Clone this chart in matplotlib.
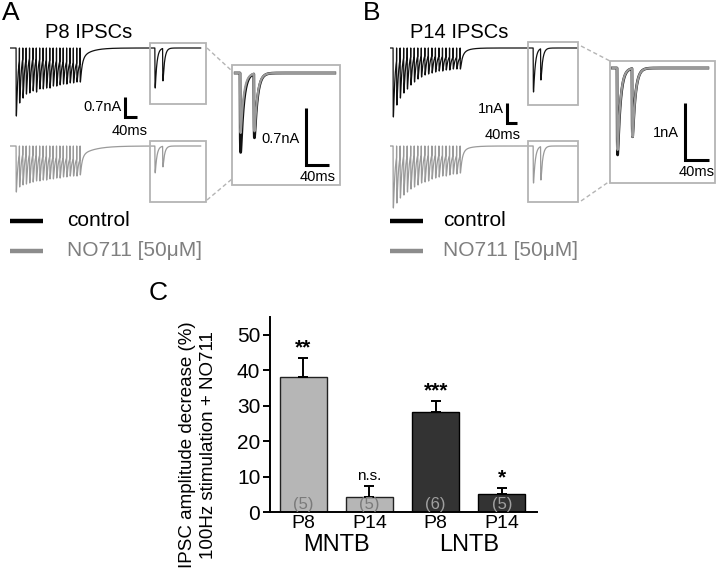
import numpy as np
import matplotlib.pyplot as plt
from matplotlib.patches import Rectangle

plt.rcParams['font.family'] = ['Liberation Sans', 'DejaVu Sans']

W, H = 720, 571

# ---- IPSC trough depths (nA), 20 pulses at 100 Hz ----
p8_ctrl_train = [2.38, 1.92, 1.75, 1.61, 1.57, 1.50, 1.54, 1.43, 1.43, 1.40,
                 1.40, 1.33, 1.33, 1.29, 1.26, 1.26, 1.22, 1.22, 1.19, 1.19]
p8_no711_train = [1.61, 1.43, 1.36, 1.33, 1.29, 1.26, 1.22, 1.22, 1.19, 1.19,
                  1.15, 1.15, 1.12, 1.12, 1.08, 1.08, 1.05, 1.05, 1.05, 1.01]
p14_ctrl_train = [3.45, 2.85, 2.50, 2.25, 2.05, 1.85, 1.70, 1.55, 1.45, 1.35,
                  1.30, 1.25, 1.20, 1.15, 1.15, 1.10, 1.10, 1.05, 1.05, 1.05]
p14_no711_train = [3.10, 2.85, 2.60, 2.45, 2.30, 2.15, 2.05, 1.95, 1.85, 1.80,
                   1.75, 1.65, 1.60, 1.55, 1.50, 1.50, 1.45, 1.40, 1.40, 1.35]

# recovery pulse pair after the train
p8_ctrl_rec = [1.40, 1.15]
p8_no711_rec = [0.94, 0.73]
p14_ctrl_rec = [2.20, 1.60]
p14_no711_rec = [1.85, 1.70]

# recovery pair in the enlarged insets
p8_ctrl_zoom = [0.98, 0.80]
p8_no711_zoom = [0.74, 0.72]
p14_ctrl_zoom = [1.58, 1.25]
p14_no711_zoom = [1.49, 1.25]

# slow current left at the end of the train (nA): control, NO711
p8_tail = [0.40, 0.35]
p14_tail = [0.35, 0.30]

# ---- panel C ----
groups = ["MNTB", "LNTB"]
ages = ["P8", "P14", "P8", "P14"]
decrease = [38.2, 4.1, 28.2, 5.1]
sem = [5.3, 3.2, 3.2, 1.6]
n_cells = ["(5)", "(5)", "(6)", "(5)"]
signif = ["**", "n.s.", "***", "*"]

ISI = 10.0
train_on = np.arange(20) * ISI


def kernel(s, tau=5.0):
    return np.where(s > 0, (1 - np.exp(-s / 0.4)) * np.exp(-s / tau), 0.0)


_s = np.arange(0, 30, 0.01)
_k = kernel(_s)
K_MAX = _k.max()
T_PK = _s[_k.argmax()]


def make_trace(t, onsets, depths, tail=0.0, tail_tau=30.0, n_train=0):
    slow = np.zeros_like(t)
    if tail > 0 and n_train > 1:
        ts, te = onsets[0], onsets[n_train - 1]
        ramp = np.clip((t - ts) / (te - ts), 0, 1)
        decay = np.where(t > te, np.exp(-(t - te) / tail_tau), 1.0)
        slow = -tail * ramp * decay
    amps = []
    for k, (on, d) in enumerate(zip(onsets, depths)):
        tp = on + T_PK
        prev = sum(a * kernel(tp - o) / K_MAX for a, o in zip(amps, onsets[:k]))
        amps.append(max(d - prev + np.interp(tp, t, slow), 0.05))
    y = slow.copy()
    for a, on in zip(amps, onsets):
        y -= a * kernel(t - on) / K_MAX
    for on in onsets[:n_train]:
        y[(t >= on) & (t < on + 0.3)] = 0.0
    return y


fig = plt.figure(figsize=(7.2, 5.71), dpi=100)


def px_axes(x0, y0, x1, y1, zorder=1):
    ax = fig.add_axes([x0 / W, 1 - y1 / H, (x1 - x0) / W, (y1 - y0) / H], zorder=zorder)
    return ax


def trace_axes(box, t0_px, ppms, base_px, ppna):
    x0, y0, x1, y1 = box
    ax = px_axes(x0, y0, x1, y1, zorder=2)
    ax.set_xlim((x0 - t0_px) / ppms, (x1 - t0_px) / ppms)
    ax.set_ylim((base_px - y1) / ppna, (base_px - y0) / ppna)
    ax.axis('off')
    ax.patch.set_alpha(0)
    return ax


BLACK = '#111111'
GRAY = '#9a9a9a'

panels = [
    dict(x=0, ctrl=p8_ctrl_train, no=p8_no711_train, crec=p8_ctrl_rec, nrec=p8_no711_rec,
         czoom=p8_ctrl_zoom, nzoom=p8_no711_zoom, tail=p8_tail, t0=16, ppms=0.337, ppna=28.6,
         rec=[412, 435], zon=[0, 23], tend=548, zbox=(233, 66, 339, 184), zt0=240, zppms=0.6,
         zbase=73, zppna=81, tail_tau=[28, 40]),
    dict(x=380, ctrl=p14_ctrl_train, no=p14_no711_train, crec=p14_ctrl_rec, nrec=p14_no711_rec,
         czoom=p14_ctrl_zoom, nzoom=p14_no711_zoom, tail=p14_tail, t0=393, ppms=0.353, ppna=20,
         rec=[397, 418], zon=[0, 26], tend=522, zbox=(611, 62, 714, 182), zt0=617, zppms=0.575,
         zbase=68, zppna=55, tail_tau=[18, 22]),
]

for p in panels:
    t = np.arange(-20, p['tend'], 0.1)
    onsets = list(train_on) + p['rec']
    for (depths, rec, tail, tau, base, col, ybox) in [
            (p['ctrl'], p['crec'], p['tail'][0], p['tail_tau'][0], 48, BLACK, (38, 128)),
            (p['no'], p['nrec'], p['tail'][1], p['tail_tau'][1], 146, GRAY, (136, 215))]:
        y = make_trace(t, onsets, list(depths) + rec, tail, tau, n_train=20)
        x_start = p['t0'] - 6 if p['x'] == 0 else p['t0'] - 3
        ax = trace_axes((x_start, ybox[0], x_start + 200, ybox[1]), p['t0'], p['ppms'], base, p['ppna'])
        ax.plot(t, y, color=col, lw=0.9)
    # enlarged recovery pair
    tz = np.arange(-8, 158, 0.05)
    axz = trace_axes(p['zbox'], p['zt0'], p['zppms'], p['zbase'], p['zppna'])
    axz.plot(tz, make_trace(tz, p['zon'], p['czoom']), color=BLACK, lw=2.0)
    axz.plot(tz, make_trace(tz, p['zon'], p['nzoom']), color=GRAY, lw=1.6)

# ---- overlay for labels, boxes, scale bars and legends (pixel coordinates) ----
ov = fig.add_axes([0, 0, 1, 1], zorder=5)
ov.set_xlim(0, W)
ov.set_ylim(H, 0)
ov.axis('off')
ov.patch.set_alpha(0)

BOX = '#b4b4b4'
ov.text(2, 13, "A", fontsize=19, va='center', ha='left')
ov.text(363, 13, "B", fontsize=19, va='center', ha='left')
ov.text(149, 293, "C", fontsize=19, va='center', ha='left')
ov.text(89, 32, "P8 IPSCs", fontsize=14.5, ha='center', va='center')
ov.text(459, 32, "P14 IPSCs", fontsize=14.5, ha='center', va='center')

for (sx, sy0, sy1, sx1) in [(150, 43, 104, 206), (150, 141, 202, 206),
                            (528, 42, 105, 578), (528, 141, 202, 578)]:
    ov.add_patch(Rectangle((sx, sy0), sx1 - sx, sy1 - sy0, fill=False, ec=BOX, lw=1.3))
for zb in [(232, 65, 340, 185), (610, 61, 715, 183)]:
    ov.add_patch(Rectangle((zb[0], zb[1]), zb[2] - zb[0], zb[3] - zb[1], fill=False, ec=BOX, lw=1.3))

dash = dict(color=BOX, lw=1.0, ls=(0, (3, 2)))
ov.plot([207, 232], [48, 71], **dash)
ov.plot([207, 232], [200, 179], **dash)
ov.plot([581, 610], [46, 61], **dash)
ov.plot([581, 610], [201, 181], **dash)

# scale bars: (x, y_top, y_bottom, x_right, amp label, label x, label y, time label x, y)
bars = [(125, 97, 117, 137, "0.7nA", 122, 107, 130, 131),
        (306, 108, 165, 329, "0.7nA", 300, 139, 318, 177),
        (507, 103, 123, 517, "1nA", 504, 109, 503, 135),
        (685, 103, 160, 709, "1nA", 679, 133, 697, 172)]
for bx, by0, by1, bx1, lab, lx, ly, tx, ty in bars:
    ov.plot([bx, bx, bx1], [by0, by1, by1], color='black', lw=2.2, solid_capstyle='butt',
            solid_joinstyle='miter')
    ov.text(lx, ly, lab, fontsize=10.5, ha='right', va='center')
    ov.text(tx, ty, "40ms", fontsize=10.5, ha='center', va='center')

for lx0, tx0 in [(10, 67), (390, 443)]:
    ov.plot([lx0, lx0 + 33], [221, 221], color='black', lw=3.2, solid_capstyle='butt')
    ov.plot([lx0, lx0 + 33], [251, 251], color='#8c8c8c', lw=3.2, solid_capstyle='butt')
    ov.text(tx0, 220, "control", fontsize=15, va='center', ha='left', color='black')
    ov.text(tx0, 250, "NO711 [50μM]", fontsize=15, va='center', ha='left', color='#7f7f7f')

# ---- panel C bar chart ----
axb = px_axes(270, 317, 537, 512, zorder=3)
xpos = np.arange(len(decrease))
colors = ['#b6b6b6', '#b6b6b6', '#333333', '#333333']
edges = ['#222222', '#222222', '#000000', '#000000']
axb.bar(xpos, decrease, width=0.71, color=colors, edgecolor=edges, linewidth=1.0,
        yerr=[np.zeros(len(sem)), sem], error_kw=dict(ecolor='black', elinewidth=1.4,
                                                      capsize=3.5, capthick=1.4))
axb.set_xlim(-0.5, 3.53)
axb.set_ylim(0, 55)
axb.set_yticks(np.arange(0, 51, 10))
axb.set_xticks(xpos)
axb.set_xticklabels(ages)
axb.tick_params(axis='y', direction='out', length=5, width=1.4, labelsize=15, pad=2)
axb.tick_params(axis='x', length=0, labelsize=14, pad=2)
for s in ['top', 'right']:
    axb.spines[s].set_visible(False)
for s in ['left', 'bottom']:
    axb.spines[s].set_linewidth(1.4)
axb.patch.set_alpha(0)

for i, (v, e, n, sg) in enumerate(zip(decrease, sem, n_cells, signif)):
    axb.text(i, 2.1, n, ha='center', va='center', fontsize=12,
             color='#7a7a7a' if i < 2 else '#a0a0a0')
    if sg == "n.s.":
        axb.text(i, v + e + 0.8, sg, ha='center', va='bottom', fontsize=11)
    else:
        axb.text(i, v + e + 0.2, sg, ha='center', va='bottom', fontsize=15, fontweight='bold')

for gi, g in enumerate(groups):
    axb.text(2 * gi + 0.5, -0.17, g, transform=axb.get_xaxis_transform(),
             ha='center', va='center', fontsize=17)

axb.text(-0.268, 0.344, "IPSC amplitude decrease (%)\n100Hz stimulation + NO711",
         transform=axb.transAxes, rotation=90, ha='center', va='center',
         fontsize=13.5, linespacing=1.3, multialignment='center')

fig.savefig("out.png", dpi=100)
